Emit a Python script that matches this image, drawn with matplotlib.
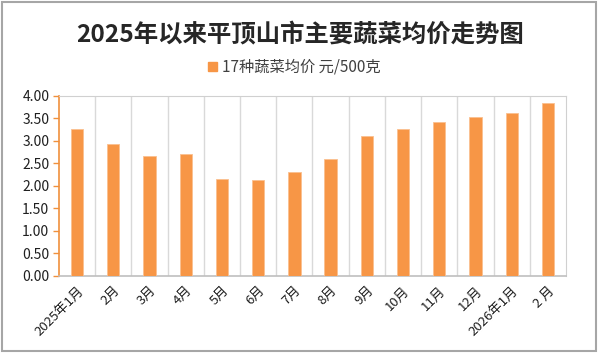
import matplotlib
matplotlib.use("Agg")
import numpy as np
import matplotlib.pyplot as plt
from matplotlib.patches import Rectangle

plt.rcParams['font.family'] = ['Noto Sans CJK SC', 'DejaVu Sans']

# data
months = ['2025年1月', '2月', '3月', '4月', '5月', '6月', '7月',
          '8月', '9月', '10月', '11月', '12月', '2026年1月', '2 月']
prices = [3.26, 2.93, 2.67, 2.70, 2.16, 2.13, 2.30,
          2.59, 3.10, 3.26, 3.41, 3.52, 3.61, 3.83]
y_ticks = [0.0, 0.5, 1.0, 1.5, 2.0, 2.5, 3.0, 3.5, 4.0]

bar_color = '#F79646'
axis_orange = '#F0903C'
grid_gray = '#D9D9D9'

fig = plt.figure(figsize=(6, 3.6), dpi=100)
ax = fig.add_axes([0.0983, 0.234, 0.845, 0.50])

x = np.arange(len(months))
ax.bar(x, prices, width=0.34, color=bar_color, edgecolor='#FAC090',
       linewidth=0.6, zorder=3)

ax.set_xlim(-0.5, len(months) - 0.5)
ax.set_ylim(0, 4.0)
ax.set_yticks(y_ticks)
ax.set_yticklabels(['%.2f' % v for v in y_ticks], fontsize=10, color='#1F1F1F')

# vertical separators between categories
for b in np.arange(0.5, len(months) - 0.5, 1.0):
    ax.axvline(b, color=grid_gray, linewidth=1.0, zorder=1)

ax.set_xticks(x)
ax.set_xticklabels(months, rotation=45, ha='right', rotation_mode='anchor',
                   fontsize=9.5, color='#1F1F1F')
ax.tick_params(axis='x', length=0, pad=6)
ax.tick_params(axis='y', length=4, color=axis_orange, width=1.0, pad=3)

ax.spines['left'].set_color(axis_orange)
ax.spines['left'].set_linewidth(1.2)
ax.spines['bottom'].set_color('#BFBFBF')
ax.spines['bottom'].set_linewidth(1.2)
ax.spines['top'].set_color('#D0D0D0')
ax.spines['right'].set_color('#D0D0D0')

fig.text(0.5, 0.903, '2025年以来平顶山市主要蔬菜均价走势图', ha='center',
         va='center', fontsize=17.6, fontweight='bold', color='#262626')

# legend entry
fig.patches.append(Rectangle((0.346, 0.803), 0.015, 0.025,
                             transform=fig.transFigure, color=bar_color))
fig.text(0.37, 0.815, '17种蔬菜均价 元/500克', ha='left', va='center',
         fontsize=11, color='#404040')

# outer frame
fig.patches.append(Rectangle((0.004, 0.024), 0.99, 0.97, transform=fig.transFigure,
                             fill=False, edgecolor='#A6A6A6', linewidth=1.5))

fig.savefig('out.png', dpi=100)
